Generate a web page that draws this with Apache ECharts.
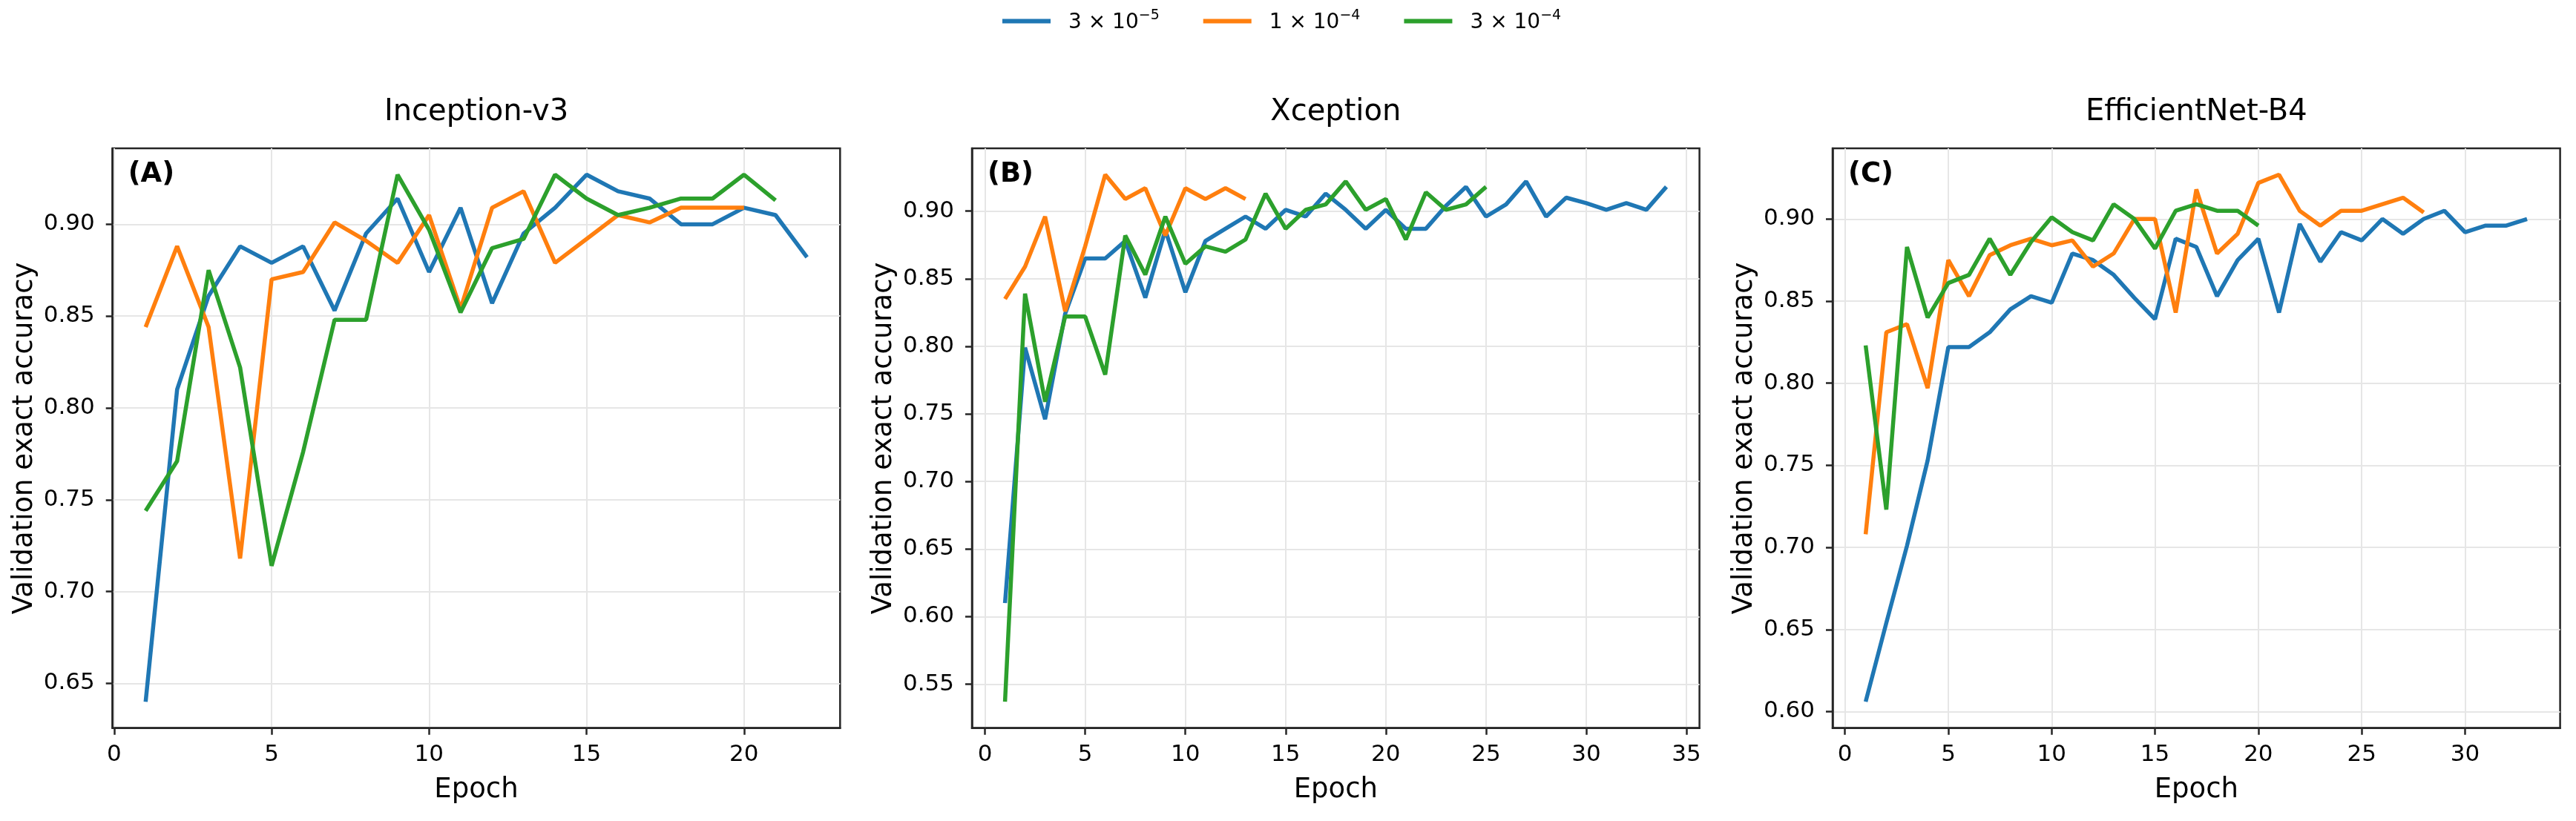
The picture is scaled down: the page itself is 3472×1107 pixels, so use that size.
<!DOCTYPE html>
<html>
<head>
<meta charset="utf-8">
<title>Validation exact accuracy per epoch</title>
<script src="https://cdn.jsdelivr.net/npm/echarts@6/dist/echarts.min.js"></script>
<style>
html, body { margin: 0; padding: 0; background: #fff; }
#chart { width: 3472px; height: 1107px; }
</style>
</head>
<body>
<div id="chart"></div>
<script>
// learning rates (legend)
var lrMantissa = ['3', '1', '3'];
var lrExponent = ['\u22125', '\u22124', '\u22124'];
var lrNames = ['3e-5', '1e-4', '3e-4'];
var lineColors = ['#1f77b4', '#ff7f0e', '#2ca02c'];

var panelTitles = ['Inception-v3', 'Xception', 'EfficientNet-B4'];
var panelLetters = ['(A)', '(B)', '(C)'];

// Inception-v3
var incep_3e5 = [0.640, 0.810, 0.861, 0.888, 0.879, 0.888, 0.853, 0.895, 0.914, 0.874, 0.909, 0.857, 0.895, 0.909, 0.927, 0.918, 0.914, 0.900, 0.900, 0.909, 0.905, 0.882];
var incep_1e4 = [0.844, 0.888, 0.844, 0.718, 0.870, 0.874, 0.901, 0.891, 0.879, 0.905, 0.854, 0.909, 0.918, 0.879, 0.892, 0.905, 0.901, 0.909, 0.909, 0.909];
var incep_3e4 = [0.744, 0.771, 0.875, 0.822, 0.714, 0.776, 0.848, 0.848, 0.927, 0.897, 0.852, 0.887, 0.892, 0.927, 0.914, 0.905, 0.909, 0.914, 0.914, 0.927, 0.913];

// Xception
var xcep_3e5 = [0.610, 0.799, 0.746, 0.824, 0.865, 0.865, 0.878, 0.836, 0.886, 0.840, 0.878, 0.887, 0.896, 0.887, 0.901, 0.896, 0.913, 0.901, 0.887, 0.901, 0.887, 0.887, 0.904, 0.918, 0.896, 0.905, 0.922, 0.896, 0.910, 0.906, 0.901, 0.906, 0.901, 0.918];
var xcep_1e4 = [0.835, 0.859, 0.896, 0.826, 0.874, 0.927, 0.909, 0.917, 0.882, 0.917, 0.909, 0.917, 0.909];
var xcep_3e4 = [0.537, 0.839, 0.759, 0.822, 0.822, 0.779, 0.882, 0.853, 0.896, 0.861, 0.874, 0.870, 0.879, 0.913, 0.887, 0.901, 0.905, 0.922, 0.901, 0.909, 0.879, 0.914, 0.901, 0.905, 0.918];

// EfficientNet-B4
var effb4_3e5 = [0.606, 0.654, 0.701, 0.753, 0.822, 0.822, 0.831, 0.845, 0.853, 0.849, 0.879, 0.875, 0.866, 0.852, 0.839, 0.888, 0.883, 0.853, 0.875, 0.888, 0.843, 0.897, 0.874, 0.892, 0.887, 0.900, 0.891, 0.900, 0.905, 0.892, 0.896, 0.896, 0.900];
var effb4_1e4 = [0.708, 0.831, 0.836, 0.797, 0.875, 0.853, 0.878, 0.884, 0.888, 0.884, 0.887, 0.871, 0.879, 0.900, 0.900, 0.843, 0.918, 0.879, 0.891, 0.922, 0.927, 0.905, 0.896, 0.905, 0.905, 0.909, 0.913, 0.904];
var effb4_3e4 = [0.823, 0.723, 0.883, 0.840, 0.861, 0.866, 0.888, 0.866, 0.886, 0.901, 0.892, 0.887, 0.909, 0.900, 0.882, 0.905, 0.909, 0.905, 0.905, 0.896];

// tick labels
var xTicksA = [0, 5, 10, 15, 20];
var xTicksB = [0, 5, 10, 15, 20, 25, 30, 35];
var xTicksC = [0, 5, 10, 15, 20, 25, 30];
var yTicksA = [0.65, 0.70, 0.75, 0.80, 0.85, 0.90];
var yTicksB = [0.55, 0.60, 0.65, 0.70, 0.75, 0.80, 0.85, 0.90];
var yTicksC = [0.60, 0.65, 0.70, 0.75, 0.80, 0.85, 0.90];

var panels = [
  { lines: [incep_3e5, incep_1e4, incep_3e4], xTicks: xTicksA, yTicks: yTicksA },
  { lines: [xcep_3e5, xcep_1e4, xcep_3e4], xTicks: xTicksB, yTicks: yTicksB },
  { lines: [effb4_3e5, effb4_1e4, effb4_3e4], xTicks: xTicksC, yTicks: yTicksC }
];

var fontFam = 'DejaVu Sans';
var frameColor = '#262626';
var gridLefts = [151.7, 1310, 2470];
var plotWidth = 980.6, plotTop = 200, plotHeight = 781.7;

function toPoints(arr) {
  return arr.map(function (v, i) { return [i + 1, v]; });
}

// matplotlib-like autoscale: 5% margin on each side
function padRange(lists) {
  var all = [].concat.apply([], lists);
  var lo = Math.min.apply(null, all), hi = Math.max.apply(null, all);
  var m = (hi - lo) * 0.05;
  return [lo - m, hi + m];
}
function epochRange(lists) {
  var n = Math.max.apply(null, lists.map(function (l) { return l.length; }));
  var m = (n - 1) * 0.05;
  return [1 - m, n + m];
}

var chart = echarts.init(document.getElementById('chart'));
var grids = [], xAxes = [], yAxes = [], series = [], graphics = [];

panels.forEach(function (p, k) {
  var xr = epochRange(p.lines);
  var yr = padRange(p.lines);
  grids.push({
    left: gridLefts[k], top: plotTop, width: plotWidth, height: plotHeight,
    show: true, borderColor: frameColor, borderWidth: 2.5,
    containLabel: false, outerBoundsMode: 'none'
  });
  xAxes.push({
    gridIndex: k, type: 'value', min: xr[0], max: xr[1],
    name: 'Epoch', nameLocation: 'middle', nameGap: 65,
    nameTextStyle: { fontSize: 37, fontFamily: fontFam, color: '#000' },
    axisLine: { show: true, onZero: false, lineStyle: { color: frameColor, width: 2.5 } },
    axisTick: { show: true, length: 9, customValues: p.xTicks, lineStyle: { color: frameColor, width: 2.5 } },
    axisLabel: { customValues: p.xTicks, margin: 21, fontSize: 31, fontFamily: fontFam, color: '#000' },
    splitLine: { show: true, lineStyle: { color: '#e6e6e6', width: 2 } }
  });
  yAxes.push({
    gridIndex: k, type: 'value', min: yr[0], max: yr[1],
    name: 'Validation exact accuracy', nameLocation: 'middle', nameGap: 100,
    nameTextStyle: { fontSize: 37, fontFamily: fontFam, color: '#000' },
    axisLine: { show: true, onZero: false, lineStyle: { color: frameColor, width: 2.5 } },
    axisTick: { show: true, length: 9, customValues: p.yTicks, lineStyle: { color: frameColor, width: 2.5 } },
    axisLabel: {
      customValues: p.yTicks, margin: 24, fontSize: 31, fontFamily: fontFam, color: '#000',
      formatter: function (v) { return v.toFixed(2); }
    },
    splitLine: { show: true, lineStyle: { color: '#e6e6e6', width: 2 } }
  });
  p.lines.forEach(function (vals, j) {
    series.push({
      type: 'line', name: lrNames[j], xAxisIndex: k, yAxisIndex: k,
      data: toPoints(vals), showSymbol: false, symbol: 'none',
      lineStyle: { width: 5.5, color: lineColors[j] },
      itemStyle: { color: lineColors[j] },
      z: 3 + j
    });
  });
  graphics.push({
    type: 'text', x: gridLefts[k] + plotWidth / 2, y: 132,
    style: {
      text: panelTitles[k], fill: '#000', fontSize: 40, fontFamily: fontFam,
      align: 'center', verticalAlign: 'top', textAlign: 'center', textVerticalAlign: 'top'
    }
  });
  graphics.push({
    type: 'text', x: gridLefts[k] + 21, y: 217,
    style: {
      text: panelLetters[k], fill: '#000', fontSize: 37, fontWeight: 'bold', fontFamily: fontFam,
      align: 'left', verticalAlign: 'top', textAlign: 'left', textVerticalAlign: 'top'
    }
  });
});

var option = {
  animation: false,
  backgroundColor: '#fff',
  grid: grids,
  xAxis: xAxes,
  yAxis: yAxes,
  series: series,
  graphic: graphics,
  legend: {
    left: 1351, top: 12, padding: 0,
    icon: 'rect', itemWidth: 65, itemHeight: 6, itemGap: 59,
    data: lrNames,
    formatter: function (name) {
      var i = lrNames.indexOf(name);
      return '{g|}{b|' + lrMantissa[i] + ' \u00d7 10}{s|' + lrExponent[i] + '}';
    },
    textStyle: {
      fontFamily: fontFam, color: '#000', fontSize: 28,
      rich: {
        g: { width: 19, height: 33 },
        b: { fontSize: 28, fontFamily: fontFam, color: '#000', verticalAlign: 'bottom' },
        s: { fontSize: 19, fontFamily: fontFam, color: '#000', verticalAlign: 'top' }
      }
    }
  }
};

chart.setOption(option);
</script>
</body>
</html>
